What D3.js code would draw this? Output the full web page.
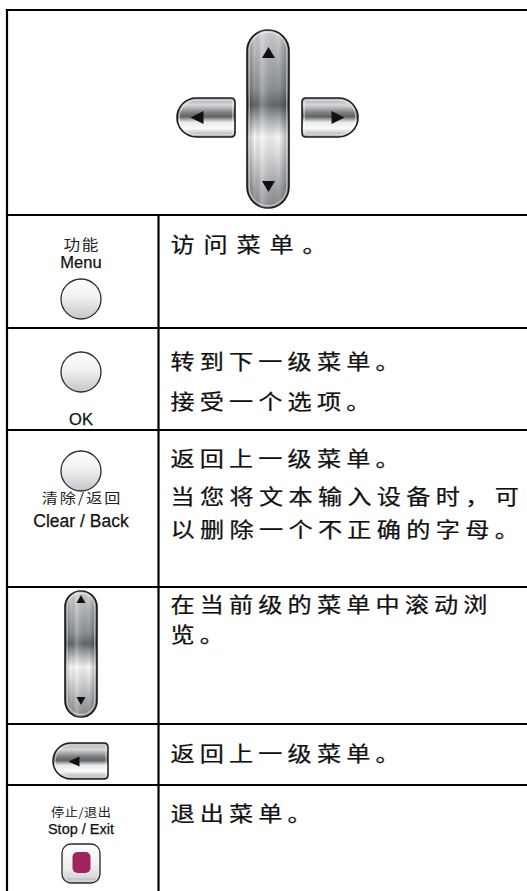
<!DOCTYPE html>
<html><head><meta charset="utf-8">
<script src="https://cdn.jsdelivr.net/npm/d3@7"></script>
<style>html,body{margin:0;padding:0;background:#fff;overflow:hidden;}svg{display:block;}</style>
</head><body>
<script>
// ---- content ----
const rowKeys = ["dpad","menu","ok","clear","scroll","back","stop"];
const buttonLabelsCN = ["", "功能", "", "清除/返回", "", "", "停止/退出"];
const buttonLabelsEN = ["", "Menu", "OK", "Clear / Back", "", "", "Stop / Exit"];
const descriptions = [
  [],
  ["访问菜单。"],
  ["转到下一级菜单。", "接受一个选项。"],
  ["返回上一级菜单。", "当您将文本输入设备时，可", "以删除一个不正确的字母。"],
  ["在当前级的菜单中滚动浏", "览。"],
  ["返回上一级菜单。"],
  ["退出菜单。"]
];

// ---- layout ----
const W = 527, H = 891;
const rowEdges = [10, 215, 328, 430, 587, 724, 785, 900];
const tableLeft = 7, tableRight = 545, colX = 158.5;
const textX = 170.5;
const descBaselines = [[], [251.5], [369, 409], [466, 504, 537], [611.5, 642], [761], [821]];
const descPitch = [[], [33], [29.3, 29.3], [29.3, 29.5, 29.5], [29.3, 29.3], [29.3], [29.3]];
const descSize = 21, descSX = 1.15;

const svg = d3.select("body").append("svg").attr("width", W).attr("height", H);
const defs = svg.append("defs");

function grad(id, stops, vertical = true) {
  const g = defs.append("linearGradient").attr("id", id)
    .attr("x1", 0).attr("y1", 0).attr("x2", vertical ? 0 : 1).attr("y2", vertical ? 1 : 0);
  stops.forEach(([o, c, a]) => g.append("stop").attr("offset", o).attr("stop-color", c).attr("stop-opacity", a == null ? 1 : a));
}
grad("vbar", [[0, "#d2d4d6"], [0.12, "#b9bcbf"], [0.33, "#8e9194"], [0.42, "#63676a"], [0.5, "#a9acaf"], [0.6, "#f6f7f8"], [0.7, "#dcdee0"], [0.88, "#a6a9ac"], [1, "#86898c"]]);
grad("hbtn", [[0, "#a4a7aa"], [0.18, "#d5d7d9"], [0.38, "#7b7e81"], [0.48, "#5f6366"], [0.62, "#e9eaeb"], [0.78, "#fbfbfb"], [1, "#9b9ea1"]]);
grad("edge", [[0, "#000", 0.35], [0.18, "#000", 0.0], [0.35, "#fff", 0.25], [0.75, "#000", 0.0], [1, "#000", 0.35]], false);
grad("circ", [[0, "#ffffff"], [0.45, "#f0f1f2"], [1, "#c3c6c9"]]);
grad("stop", [[0, "#ffffff"], [0.6, "#eeeeef"], [1, "#c9cbcd"]]);

// ---- table lines ----
const lines = svg.append("g").attr("stroke", "#000").attr("stroke-width", 2.2).attr("fill", "none");
lines.append("line").attr("x1", tableLeft).attr("x2", tableLeft).attr("y1", rowEdges[0] - 1.1).attr("y2", H + 5);
rowEdges.slice(0, -1).forEach(y => lines.append("line").attr("x1", tableLeft - 1.1).attr("x2", tableRight).attr("y1", y).attr("y2", y));
lines.append("line").attr("x1", colX).attr("x2", colX).attr("y1", rowEdges[1]).attr("y2", H + 5);

// ---- helpers ----
function tri(g, cx, cy, w, h, dir) {
  let p;
  if (dir === "up") p = [[cx, cy - h / 2], [cx + w / 2, cy + h / 2], [cx - w / 2, cy + h / 2]];
  if (dir === "down") p = [[cx, cy + h / 2], [cx + w / 2, cy - h / 2], [cx - w / 2, cy - h / 2]];
  if (dir === "left") p = [[cx - w / 2, cy], [cx + w / 2, cy - h / 2], [cx + w / 2, cy + h / 2]];
  if (dir === "right") p = [[cx + w / 2, cy], [cx - w / 2, cy - h / 2], [cx - w / 2, cy + h / 2]];
  g.append("path").attr("d", d3.line()(p) + "Z").attr("fill", "#111");
}
function vbar(g, x, y, w, h) {
  const r = w / 2;
  g.append("rect").attr("x", x).attr("y", y).attr("width", w).attr("height", h).attr("rx", r)
    .attr("fill", "url(#vbar)").attr("stroke", "#1b1b1b").attr("stroke-width", 1.6);
  g.append("rect").attr("x", x).attr("y", y).attr("width", w).attr("height", h).attr("rx", r)
    .attr("fill", "url(#edge)");
  g.append("rect").attr("x", x + 2.2).attr("y", y + 2.2).attr("width", w - 4.4).attr("height", h - 4.4).attr("rx", r - 2.2)
    .attr("fill", "none").attr("stroke", "#fff").attr("stroke-opacity", 0.7).attr("stroke-width", 0.9);
}
function sidePath(x, y, w, h, roundLeft, rc) {
  const r = h / 2;
  const p = d3.path();
  if (roundLeft) {
    p.moveTo(x + r, y);
    p.lineTo(x + w - rc, y);
    p.quadraticCurveTo(x + w, y, x + w, y + rc);
    p.lineTo(x + w, y + h - rc);
    p.quadraticCurveTo(x + w, y + h, x + w - rc, y + h);
    p.lineTo(x + r, y + h);
    p.arc(x + r, y + r, r, Math.PI / 2, 3 * Math.PI / 2);
  } else {
    p.moveTo(x + w - r, y);
    p.arc(x + w - r, y + r, r, -Math.PI / 2, Math.PI / 2);
    p.lineTo(x + rc, y + h);
    p.quadraticCurveTo(x, y + h, x, y + h - rc);
    p.lineTo(x, y + rc);
    p.quadraticCurveTo(x, y, x + rc, y);
  }
  p.closePath();
  return p.toString();
}
function sideBtn(g, x, y, w, h, roundLeft) {
  g.append("path").attr("d", sidePath(x, y, w, h, roundLeft, 4))
    .attr("fill", "url(#hbtn)").attr("stroke", "#1b1b1b").attr("stroke-width", 1.6);
  g.append("path").attr("d", sidePath(x + 2.2, y + 2.2, w - 4.4, h - 4.4, roundLeft, 2.5))
    .attr("fill", "none").attr("stroke", "#fff").attr("stroke-opacity", 0.7).attr("stroke-width", 0.9);
  tri(g, roundLeft ? x + 20 : x + w - 20, y + h / 2, 13, 13, roundLeft ? "left" : "right");
}
function circleBtn(g, cx, cy) {
  g.append("circle").attr("cx", cx).attr("cy", cy).attr("r", 20)
    .attr("fill", "url(#circ)").attr("stroke", "#2a2a2a").attr("stroke-width", 1.3);
}
function cn(g, x, y, t, size, ls, sx) {
  g.append("text").attr("transform", `translate(${x},${y}) scale(${sx},1)`)
    .attr("x", ls / 2 / sx).attr("y", 0).attr("text-anchor", "middle")
    .attr("letter-spacing", (ls / sx) + "px")
    .attr("font-family", "'Noto Sans CJK SC', sans-serif").attr("font-size", size).attr("fill", "#222").text(t);
}
function en(g, x, y, t, size) {
  g.append("text").attr("x", x).attr("y", y).attr("text-anchor", "middle")
    .attr("font-family", "'Liberation Sans', Arial, sans-serif").attr("font-size", size).attr("fill", "#111")
    .attr("stroke", "#111").attr("stroke-width", 0.25).text(t);
}

// ---- icons ----
const icons = svg.append("g");
const iconX = 81;
// row 0: d-pad
sideBtn(icons, 177, 98, 58, 39, true);
sideBtn(icons, 302, 98, 56, 39, false);
vbar(icons, 247, 30, 42, 178);
tri(icons, 268.5, 52.5, 13, 11, "up");
tri(icons, 268.5, 186.5, 13, 11, "down");
// row 1: menu
cn(icons, iconX, 250, buttonLabelsCN[1], 14.5, 1.5, 1.15);
en(icons, iconX, 268, buttonLabelsEN[1], 16.5);
circleBtn(icons, iconX, 299);
// row 2: OK
circleBtn(icons, iconX, 372);
en(icons, iconX, 425, buttonLabelsEN[2], 16.5);
// row 3: clear/back
circleBtn(icons, iconX, 471);
cn(icons, iconX, 503, buttonLabelsCN[3], 14, 2, 1.15);
en(icons, iconX, 527, buttonLabelsEN[3], 17.5);
// row 4: scroll bar
vbar(icons, 65, 591, 32, 126);
tri(icons, 81, 599, 9, 8, "up");
tri(icons, 81, 701, 9, 8, "down");
// row 5: back button
(function () {
  const x = 53, y = 743, w = 55, h = 36;
  icons.append("path").attr("d", sidePath(x, y, w, h, true, 4))
    .attr("fill", "url(#hbtn)").attr("stroke", "#1b1b1b").attr("stroke-width", 1.5);
  icons.append("path").attr("d", sidePath(x + 2, y + 2, w - 4, h - 4, true, 2.5))
    .attr("fill", "none").attr("stroke", "#fff").attr("stroke-opacity", 0.7).attr("stroke-width", 0.8);
  tri(icons, 74, 761.5, 11, 10, "left");
})();
// row 6: stop/exit
cn(icons, iconX, 817, buttonLabelsCN[6], 12, 0.5, 1.1);
en(icons, iconX, 833.5, buttonLabelsEN[6], 14.5);
icons.append("rect").attr("x", 62).attr("y", 844).attr("width", 38).attr("height", 39).attr("rx", 9)
  .attr("fill", "url(#stop)").attr("stroke", "#2a2a2a").attr("stroke-width", 1.3);
icons.append("line").attr("x1", 67).attr("x2", 95).attr("y1", 879).attr("y2", 879).attr("stroke", "#b5b7b9").attr("stroke-width", 1);
icons.append("rect").attr("x", 72.5).attr("y", 852).attr("width", 18).attr("height", 21).attr("rx", 5)
  .attr("fill", "#a0245f");

// ---- descriptions ----
const desc = svg.append("g").attr("font-family", "'Noto Sans CJK SC', sans-serif")
  .attr("font-size", descSize).attr("fill", "#111").attr("stroke", "#111").attr("stroke-width", 0.25);
descriptions.forEach((ls, i) => ls.forEach((t, j) => {
  const spacing = (descPitch[i][j] - descSize * descSX) / descSX;
  desc.append("text").attr("transform", `translate(${textX},${descBaselines[i][j]}) scale(${descSX},1)`)
    .attr("letter-spacing", spacing + "px")
    .attr("x", 0).attr("y", 0).text(t);
}));
</script>
</body></html>
